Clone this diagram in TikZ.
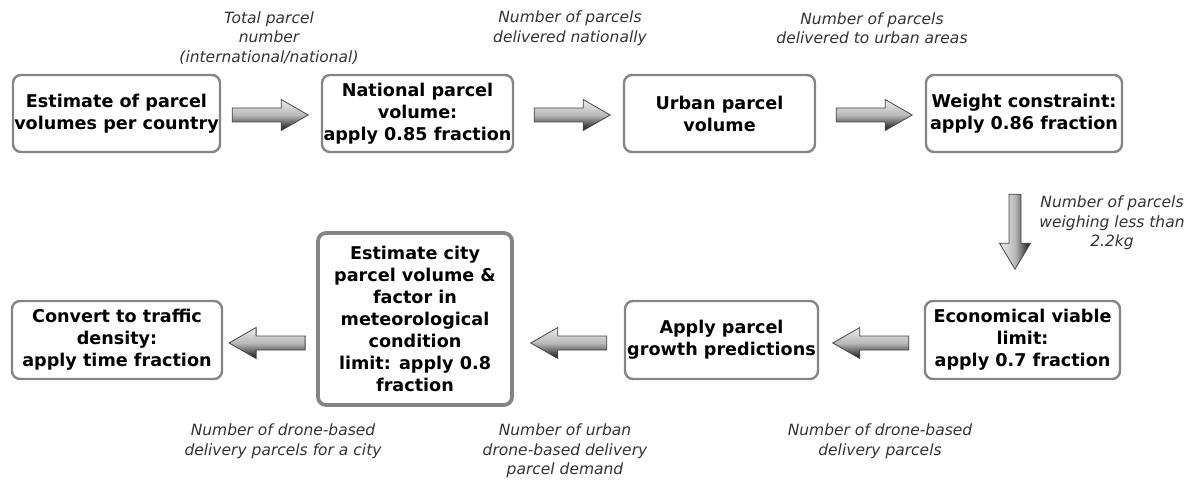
\documentclass[tikz,border=0pt]{standalone}
\usepackage{fontspec}
\setmainfont{DejaVu Sans}
\usetikzlibrary{calc}
\begin{document}
\begin{tikzpicture}[x=1pt,y=-1pt,
  box/.style={draw=black!48, line width=2.4pt, rounded corners=8pt, fill=white,
    align=center, inner sep=0pt, font=\fontsize{17.6}{22}\selectfont\bfseries},
  lbl/.style={align=center, inner sep=0pt, text=black!80,
    font=\fontsize{15.5}{19.5}\selectfont\itshape},
  barrow/.style={draw=black!72, line width=0.8pt, top color=gray!15, bottom color=black!92, middle color=gray!55},
  darrow/.style={draw=black!72, line width=0.8pt, left color=gray!15, right color=black!92, middle color=gray!55}]
\useasboundingbox (0,0) rectangle (1189,481);
% boxes
\node[box, minimum width=207pt, minimum height=77pt] (b1) at (116.5,113.5) {Estimate of parcel\\volumes per country};
\node[box, minimum width=191pt, minimum height=77pt] (b2) at (417.5,113.5) {National parcel\\volume:\\apply 0.85 fraction};
\node[box, minimum width=191pt, minimum height=77pt] (b3) at (719.5,113.5) {Urban parcel\\volume};
\node[box, minimum width=196pt, minimum height=77pt] (b4) at (1024,113.5) {Weight constraint:\\apply 0.86 fraction};
\node[box, minimum width=195pt, minimum height=78pt] (b5) at (1022.5,340) {Economical viable\\limit:\\apply 0.7 fraction};
\node[box, minimum width=193pt, minimum height=78pt] (b6) at (721.5,340) {Apply parcel\\growth predictions};
\node[box, line width=3.8pt, minimum width=194pt, minimum height=172pt] (b7) at (415,319) {Estimate city\\parcel volume \&\\factor in\\meteorological\\condition\\limit: apply 0.8\\fraction};
\node[box, minimum width=210pt, minimum height=78pt] (b8) at (117,340) {Convert to traffic\\density:\\apply time fraction};
% labels
\node[lbl] (l1) at (269,38) {Total parcel\\number\\(international/national)};
\node[lbl] (l2) at (570,28) {Number of parcels\\delivered nationally};
\node[lbl] (l3) at (872,28) {Number of parcels\\delivered to urban areas};
\node[lbl] (l4) at (1112,223) {Number of parcels\\weighing less than\\2.2kg};
\node[lbl] (l5) at (283,441) {Number of drone-based\\delivery parcels for a city};
\node[lbl] (l6) at (565,451) {Number of urban\\drone-based delivery\\parcel demand};
\node[lbl] (l7) at (880,441) {Number of drone-based\\delivery parcels};
% arrow tails
\coordinate (a1) at ($(b1.east)+(11,1.5)$);
\coordinate (a2) at ($(b2.east)+(20,1.5)$);
\coordinate (a3) at ($(b3.east)+(20,1.5)$);
\coordinate (a4) at ($(b4.south)+(-9,41)$);
\coordinate (a5) at ($(b5.west)+(-15,3)$);
\coordinate (a6) at ($(b6.west)+(-17,3)$);
\coordinate (a7) at ($(b7.west)+(-11,24)$);
% right arrows
\foreach \a in {a1,a2,a3}{
  \path[barrow] ($(\a)+(0,-7)$) -- ++(49,0) -- ++(0,-8.5) -- ++(27,15.5) -- ++(-27,15.5) -- ++(0,-8.5) -- ++(-49,0) -- cycle;
}
% left arrows
\foreach \a in {a5,a6,a7}{
  \path[barrow] ($(\a)+(0,-7)$) -- ++(-49,0) -- ++(0,-8.5) -- ++(-27,15.5) -- ++(27,15.5) -- ++(0,-8.5) -- ++(49,0) -- cycle;
}
% down arrow
\path[darrow] ($(a4)+(-6,0)$) -- ++(0,49) -- ++(-9.5,0) -- ++(15.5,26) -- ++(15.5,-26) -- ++(-9.5,0) -- ++(0,-49) -- cycle;
\end{tikzpicture}
\end{document}
